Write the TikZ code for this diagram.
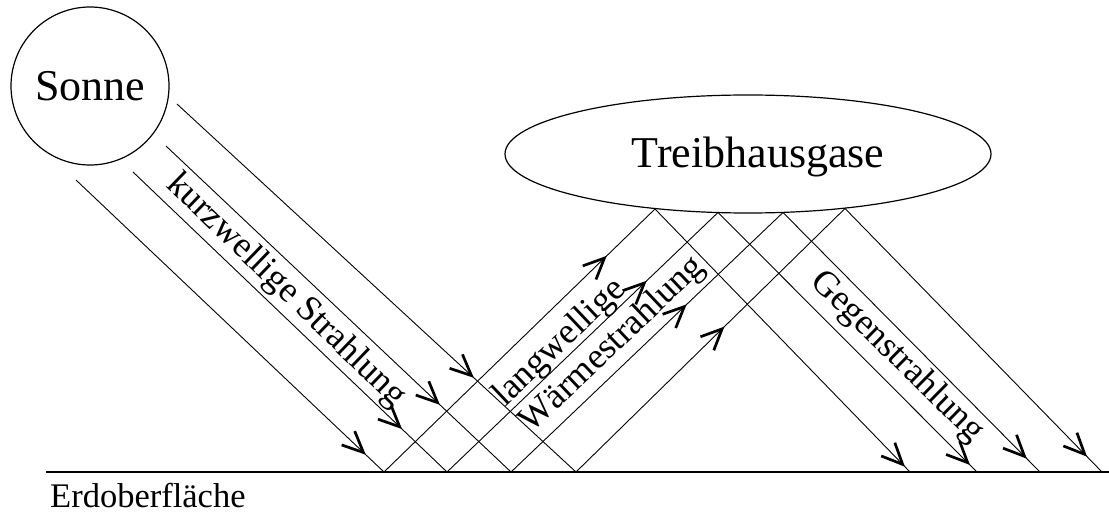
\documentclass[tikz,border=0pt]{standalone}
\usepackage{fontspec}
\setmainfont{Liberation Serif}
\usetikzlibrary{arrows.meta, decorations.markings, shapes.geometric}

\begin{document}
\begin{tikzpicture}[x=1pt, y=-1pt,
  ray/.style={line width=0.9pt},
  barbat/.style={postaction={decorate}, decoration={markings,
      mark=at position #1 with {\arrow{Straight Barb[length=21pt, width=19pt, line width=2.7pt]}}}},
  bigtext/.style={font=\fontsize{44}{50}\selectfont},
  lbl/.style={font=\fontsize{36}{40}\selectfont, inner sep=0pt},
]
\useasboundingbox (0,0) rectangle (1109,513);

% sun and greenhouse gases
\node[circle, draw, line width=1.2pt, minimum size=158pt, inner sep=0pt, bigtext] (sun) at (90,86) {Sonne};
\node[ellipse, draw, line width=1.2pt, minimum width=486pt, minimum height=118pt, inner sep=0pt] (gas) at (748,154) {};
\node[bigtext, anchor=base, inner sep=0pt] (gastext) at (758,168) {Treibhausgase};

% ground
\coordinate (gl) at (46,472);
\coordinate (gr) at (1109,472);
\draw[line width=1.5pt] (gl) -- (gr);
\node[font=\fontsize{34.5}{40}\selectfont, anchor=base west, inner sep=0pt] (earth) at (50,507) {Erdoberfläche};

% incoming short-wave rays
\coordinate (k1) at (76,180);
\coordinate (k2) at (133,172);
\coordinate (k3) at (166,146);
\coordinate (k4) at (177,104);
\coordinate (g1) at (384,472);
\coordinate (g2) at (447,472);
\coordinate (g3) at (511,472);
\coordinate (g4) at (576,472);
\draw[ray, barbat=0.941] (k1) -- (g1);
\draw[ray, barbat=0.857] (k2) -- (g2);
\draw[ray, barbat=0.794] (k3) -- (g3);
\draw[ray, barbat=0.744] (k4) -- (g4);

% long-wave rays up to the underside of the gas layer
\coordinate (e1) at (655,209);
\coordinate (e2) at (718,212.5);
\coordinate (e3) at (783,212.5);
\coordinate (e4) at (845,208.5);
\draw[ray, barbat=0.822] (g1) -- (e1);
\draw[ray, barbat=0.737] (g2) -- (e2);
\draw[ray, barbat=0.646] (g3) -- (e3);
\draw[ray, barbat=0.552] (g4) -- (e4);

% back radiation down to the ground
\coordinate (d1) at (910,472);
\coordinate (d2) at (977,472);
\coordinate (d3) at (1040,472);
\coordinate (d4) at (1102,472);
\draw[ray, barbat=0.98] (e1) -- (d1);
\draw[ray, barbat=0.973] (e2) -- (d2);
\draw[ray, barbat=0.949] (e3) -- (d3);
\draw[ray, barbat=0.942] (e4) -- (d4);

% labels along the rays
\node[lbl, rotate=-44] (kw) at (286,291) {kurzwellige Strahlung};
\node[lbl, rotate=43.5] (lw1) at (560,343) {langwellige};
\node[lbl, rotate=43.5] (lw2) at (613,345) {Wärmestrahlung};
\node[lbl, rotate=-44.5] (gs) at (897,357) {Gegenstrahlung};
\end{tikzpicture}
\end{document}
